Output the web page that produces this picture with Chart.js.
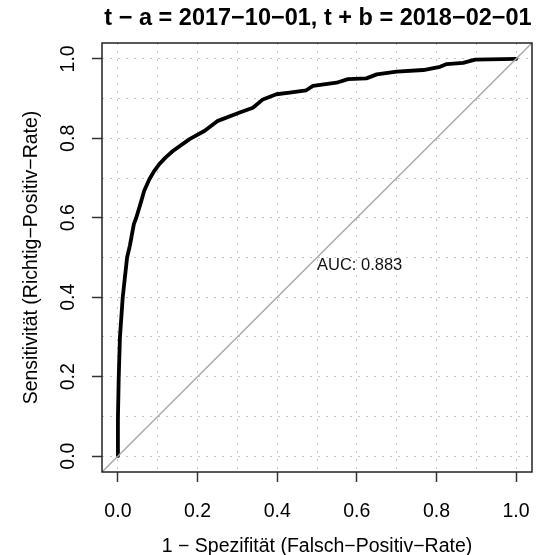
<!DOCTYPE html>
<html>
<head>
<meta charset="utf-8">
<script src="https://cdn.jsdelivr.net/npm/chart.js@4"></script>
<style>
  html, body { margin: 0; padding: 0; background: #fff; }
</style>
</head>
<body>
<canvas id="roc-canvas" width="543" height="555"></canvas>
<script>
// ROC curve
const fpr = [0, 0, 0.002, 0.005, 0.012, 0.023, 0.030, 0.040, 0.046, 0.058, 0.066, 0.079, 0.090, 0.104, 0.120, 0.138, 0.180,
             0.218, 0.251, 0.306, 0.339, 0.364, 0.398, 0.431, 0.473, 0.490, 0.549, 0.578, 0.624, 0.650, 0.700,
             0.767, 0.809, 0.826, 0.867, 0.897, 1.0];
const tpr = [0, 0.096, 0.197, 0.298, 0.399, 0.500, 0.530, 0.584, 0.600, 0.640, 0.668, 0.697, 0.716, 0.735, 0.752, 0.768, 0.798,
             0.819, 0.844, 0.865, 0.877, 0.898, 0.911, 0.915, 0.921, 0.932, 0.940, 0.949, 0.951, 0.961, 0.968,
             0.972, 0.980, 0.987, 0.990, 0.998, 1.0];

// reference line y = x across the whole plot region
const diagonal = [-0.04, 1.04];

const gridSteps = [0, 0.1, 0.2, 0.3, 0.4, 0.5, 0.6, 0.7, 0.8, 0.9, 1.0];
const tickValues = [0, 0.2, 0.4, 0.6, 0.8, 1.0];
const tickLabels = ['0.0', '0.2', '0.4', '0.6', '0.8', '1.0'];

const titleText = 't \u2212 a = 2017\u221210\u221201, t + b = 2018\u221202\u221201';
const xTitle = '1 \u2212 Spezifit\u00e4t (Falsch\u2212Positiv\u2212Rate)';
const yTitle = 'Sensitivit\u00e4t (Richtig\u2212Positiv\u2212Rate)';
const aucText = 'AUC: 0.883';
const aucPos = [0.5, 0.5];

const FONT = '"Liberation Sans", Arial, sans-serif';

function isLabelled(v) {
    return tickValues.some(t => Math.abs(t - v) < 1e-6);
}

// R-style decorations: box, tick labels, titles, AUC text
const rDecor = {
    id: 'rDecor',
    afterDatasetsDraw(chart) {
        const ctx = chart.ctx;
        const a = chart.chartArea;
        const xs = chart.scales.x, ys = chart.scales.y;
        ctx.save();

        // AUC label (left/top anchored)
        ctx.fillStyle = '#111';
        ctx.font = '16.5px ' + FONT;
        ctx.textAlign = 'left';
        ctx.textBaseline = 'alphabetic';
        ctx.fillText(aucText, xs.getPixelForValue(aucPos[0]), ys.getPixelForValue(aucPos[1]) + 12);

        // box
        ctx.strokeStyle = '#222';
        ctx.lineWidth = 1.5;
        ctx.strokeRect(a.left, a.top, a.right - a.left, a.bottom - a.top);

        ctx.fillStyle = '#000';
        ctx.font = '19.5px ' + FONT;
        ctx.textAlign = 'center';
        tickValues.forEach((v, i) => {
            ctx.fillText(tickLabels[i], xs.getPixelForValue(v), 516.5);
        });
        tickValues.forEach((v, i) => {
            ctx.save();
            ctx.translate(74, ys.getPixelForValue(v));
            ctx.rotate(-Math.PI / 2);
            ctx.fillText(tickLabels[i], 0, 0);
            ctx.restore();
        });

        // axis titles
        const cx = (a.left + a.right) / 2, cy = (a.top + a.bottom) / 2;
        ctx.fillText(xTitle, cx, 551.5);
        ctx.save();
        ctx.translate(37, cy);
        ctx.rotate(-Math.PI / 2);
        ctx.fillText(yTitle, 0, 0);
        ctx.restore();

        // main title
        ctx.font = 'bold 23.5px ' + FONT;
        ctx.fillText(titleText, cx + 1, 25);
        ctx.restore();
    }
};

function axis(fitSide, fitSize) {
    return {
        type: 'linear',
        min: -0.04,
        max: 1.04,
        afterBuildTicks: s => { s.ticks = gridSteps.map(v => ({value: v})); },
        afterFit: s => { s[fitSide] = fitSize; },
        ticks: {display: false},
        grid: {
            color: '#c4c4c4',
            lineWidth: 1,
            tickLength: 10,
            tickWidth: 1.5,
            tickColor: c => isLabelled(c.tick.value) ? '#333' : 'rgba(0,0,0,0)'
        },
        border: {display: false, dash: [2, 6]}
    };
}

const config = {
    type: 'scatter',
    data: {
        datasets: [
            {
                label: 'Diagonale',
                data: diagonal.map(v => ({x: v, y: v})),
                showLine: true,
                borderColor: '#aaaaaa',
                borderWidth: 1.5,
                pointRadius: 0
            },
            {
                label: 'ROC',
                data: fpr.map((v, i) => ({x: v, y: tpr[i]})),
                showLine: true,
                borderColor: '#000',
                borderWidth: 3.8,
                pointRadius: 0,
                borderJoinStyle: 'round',
                borderCapStyle: 'round'
            }
        ]
    },
    options: {
        responsive: false,
        animation: false,
        devicePixelRatio: 1,
        layout: {padding: {top: 43, right: 11, bottom: 0, left: 0}},
        plugins: {
            legend: {display: false},
            tooltip: {enabled: false},
            title: {display: false}
        },
        scales: {
            x: axis('height', 83),
            y: axis('width', 102)
        }
    },
    plugins: [rDecor]
};

new Chart(document.getElementById('roc-canvas').getContext('2d'), config);
</script>
</body>
</html>
